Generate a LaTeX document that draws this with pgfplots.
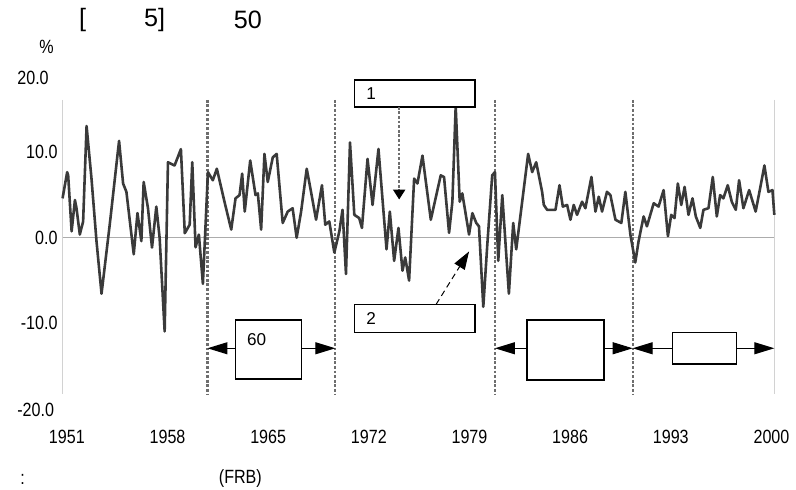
\documentclass[border=0pt]{standalone}
\usepackage{pgfplots}
\pgfplotsset{compat=1.18}
\usepackage{fontspec}
\setmainfont{Liberation Sans}
\newfontfamily\narrow{Liberation Sans}[FakeStretch=0.84]
\usetikzlibrary{arrows.meta}
\definecolor{serie}{HTML}{3A3A3A}
\definecolor{recess}{HTML}{6E6E6E}

\begin{document}
\begin{tikzpicture}
\begin{axis}[
    at={(0,0)}, anchor=south west,
    scale only axis, width=356.65pt, height=172pt,
    xmin=1950.70, xmax=2000.20, ymin=-20, ymax=20,
    axis line style={draw=none},
    xtick={1951,1958,...,2000},
    xticklabels={1951,1958,1965,1972,1979,1986,1993,2000},
    ytick={-10,0,10},
    yticklabels={-10.0,0.0,10.0},
    major tick length=0pt,
    tick label style={font=\narrow\fontsize{9.6}{11}\selectfont},
    xticklabel style={yshift=-7pt},
    yticklabel style={xshift=1pt},
    clip=false,
]
% frame and zero line
\draw[gray!35, line width=0.6pt] (axis cs:1950.70,16.05) -- (axis cs:1950.70,-18.26);
\draw[gray!35, line width=0.6pt] (axis cs:2000.20,16.05) -- (axis cs:2000.20,-18.26);
\draw[gray!65, line width=0.8pt] (axis cs:1950.70,0) -- (axis cs:2000.20,0);

% recessions
\foreach \yr in {1960.78,1969.67,1980.77,1990.35}{
  \edef\tmp{\noexpand\draw[recess, line width=1.1pt, dash pattern=on 1.4pt off 0.9pt]
    (axis cs:\yr,16.05) -- (axis cs:\yr,-18.26);}
  \tmp
}

\addplot[serie, line width=1.3pt, line join=round, no markers] coordinates {
(1950.70,4.56) (1951.02,7.62) (1951.09,7.24) (1951.33,0.72) (1951.56,4.37)
(1951.67,3.41) (1951.90,0.34) (1952.13,1.87) (1952.37,12.99) (1952.71,6.90)
(1953.06,-0.43) (1953.41,-6.55) (1953.98,1.49) (1954.63,11.26) (1954.91,6.29)
(1955.14,5.32) (1955.65,-1.95) (1955.91,2.84) (1956.18,-0.43) (1956.34,6.47)
(1956.64,3.41) (1956.92,-1.18) (1957.22,3.60) (1957.45,-0.03) (1957.80,-10.95)
(1958.03,8.77) (1958.49,8.39) (1958.93,10.30) (1959.20,0.50) (1959.54,1.49)
(1959.72,8.77) (1959.95,-1.15) (1960.18,0.34) (1960.46,-5.40) (1960.81,7.62)
(1961.15,6.67) (1961.43,8.01) (1961.96,4.17) (1962.43,0.92) (1962.73,4.56)
(1963.01,4.94) (1963.19,7.44) (1963.37,3.02) (1963.75,8.97) (1964.12,4.94)
(1964.28,5.14) (1964.51,0.92) (1964.74,9.74) (1964.97,6.47) (1965.32,9.34)
(1965.59,9.74) (1966.01,1.69) (1966.36,3.02) (1966.70,3.41) (1966.98,-0.03)
(1967.29,3.02) (1967.68,8.01) (1967.98,5.32) (1968.33,2.07) (1968.74,6.09)
(1968.97,1.49) (1969.25,1.87) (1969.60,-1.76) (1969.95,0.72) (1970.17,3.22)
(1970.41,-4.25) (1970.69,11.07) (1970.99,2.64) (1971.33,2.26) (1971.52,1.11)
(1971.91,9.16) (1972.26,3.79) (1972.67,10.31) (1973.23,-1.38) (1973.46,3.02)
(1973.76,-2.72) (1974.06,1.11) (1974.34,-3.87) (1974.53,-2.33) (1974.80,-5.02)
(1975.15,6.86) (1975.38,6.29) (1975.73,9.54) (1976.31,2.07) (1977.00,7.24)
(1977.23,7.05) (1977.58,0.54) (1977.81,4.17) (1978.04,15.29) (1978.32,4.17)
(1978.50,5.14) (1978.97,0.34) (1979.20,2.84) (1979.47,1.69) (1979.66,1.30)
(1979.96,-8.08) (1980.24,-0.80) (1980.58,7.24) (1980.77,7.62) (1981.00,-2.72)
(1981.28,4.94) (1981.74,-6.55) (1982.04,1.69) (1982.25,-1.38) (1983.08,9.74)
(1983.36,7.62) (1983.64,8.77) (1984.05,5.32) (1984.17,3.79) (1984.40,3.22)
(1984.98,3.22) (1985.26,6.09) (1985.49,3.60) (1985.79,3.79) (1986.02,2.07)
(1986.25,3.79) (1986.48,2.64) (1986.83,4.17) (1987.06,3.41) (1987.48,7.05)
(1987.76,3.02) (1987.99,4.75) (1988.22,3.02) (1988.56,5.32) (1988.80,4.94)
(1989.15,2.07) (1989.56,1.69) (1989.84,5.32) (1990.19,0.34) (1990.53,-2.91)
(1990.76,-0.43) (1991.11,2.45) (1991.34,1.30) (1991.81,3.99) (1992.15,3.60)
(1992.50,5.52) (1992.80,0.15) (1993.03,2.64) (1993.26,2.26) (1993.49,6.29)
(1993.73,3.79) (1993.96,5.90) (1994.23,2.64) (1994.51,4.56) (1994.74,2.45)
(1995.05,1.11) (1995.27,3.22) (1995.62,3.41) (1995.92,7.05) (1996.20,2.45)
(1996.43,4.94) (1996.66,4.56) (1996.96,6.09) (1997.24,4.17) (1997.52,3.22)
(1997.75,6.67) (1998.05,3.41) (1998.45,5.52) (1998.90,3.02) (1999.21,5.71)
(1999.51,8.39) (1999.79,5.32) (2000.07,5.52) (2000.20,2.64)
};

% arrows between recessions
\draw[{Triangle[length=10pt,width=6pt]}-{Triangle[length=10pt,width=6pt]}, line width=0.5pt]
  (axis cs:1960.78,-12.91) -- (axis cs:1969.67,-12.91);
\draw[{Triangle[length=10pt,width=6pt]}-{Triangle[length=10pt,width=6pt]}, line width=0.5pt]
  (axis cs:1980.77,-12.91) -- (axis cs:1990.35,-12.91);
\draw[{Triangle[length=10pt,width=6pt]}-{Triangle[length=10pt,width=6pt]}, line width=0.5pt]
  (axis cs:1990.35,-12.91) -- (axis cs:2000.20,-12.91);

% boxes
\draw[line width=0.8pt, fill=white] (axis cs:1962.73,-9.65) rectangle (axis cs:1967.31,-16.51);
\node[anchor=west, font=\fontsize{8.6}{10}\selectfont, inner sep=0pt] at (axis cs:1963.5,-11.9) {60};
\draw[line width=0.8pt, fill=white] (axis cs:1982.99,-9.65) rectangle (axis cs:1988.34,-16.63);
\draw[line width=0.8pt, fill=white] (axis cs:1993.12,-11.05) rectangle (axis cs:1997.57,-14.77);

\draw[line width=0.8pt, fill=white] (axis cs:1970.99,18.37) rectangle (axis cs:1979.38,15.23);
\node[anchor=west, font=\fontsize{8.6}{10}\selectfont, inner sep=0pt] at (axis cs:1971.8,16.8) {1};
\draw[line width=0.8pt, fill=white] (axis cs:1970.99,-7.79) rectangle (axis cs:1979.38,-11.05);
\node[anchor=west, font=\fontsize{8.6}{10}\selectfont, inner sep=0pt] at (axis cs:1971.8,-9.4) {2};

% pointer arrows
\draw[recess, line width=1.1pt, dash pattern=on 1.4pt off 0.9pt,
  -{Triangle[length=5pt,width=6pt,color=black]}]
  (axis cs:1974.11,15.23) -- (axis cs:1974.11,4.42);
\draw[line width=0.5pt, dash pattern=on 3pt off 2pt,
  -{Triangle[length=9pt,width=6pt]}]
  (axis cs:1976.68,-7.79) -- (axis cs:1978.97,-1.63);
\end{axis}

% outer texts, placed in pixel units of the 796x491 frame
\begin{scope}[shift={(-31.35pt,205pt)}, x=0.5pt, y=-0.5pt]
\path (0,0) rectangle (796,491);
\node[anchor=west, inner sep=0pt, font=\fontsize{12.6}{14}\selectfont] at (79,20) {[};
\node[anchor=west, inner sep=0pt, font=\fontsize{12.6}{14}\selectfont] at (144,20) {5]};
\node[anchor=west, inner sep=0pt, font=\fontsize{12.6}{14}\selectfont] at (234,20) {50};
\node[anchor=west, inner sep=0pt, font=\narrow\fontsize{9.6}{11}\selectfont] at (39,47) {\%};
\node[anchor=west, inner sep=0pt, font=\narrow\fontsize{9.6}{11}\selectfont] at (17,78) {20.0};
\node[anchor=west, inner sep=0pt, font=\narrow\fontsize{9.6}{11}\selectfont] at (17,411) {-20.0};
\node[anchor=west, inner sep=0pt, font=\narrow\fontsize{9.6}{11}\selectfont] at (20,480) {:};
\node[anchor=west, inner sep=0pt, font=\narrow\fontsize{9.6}{11}\selectfont] at (219,480) {(FRB)};
\end{scope}
\end{tikzpicture}
\end{document}
